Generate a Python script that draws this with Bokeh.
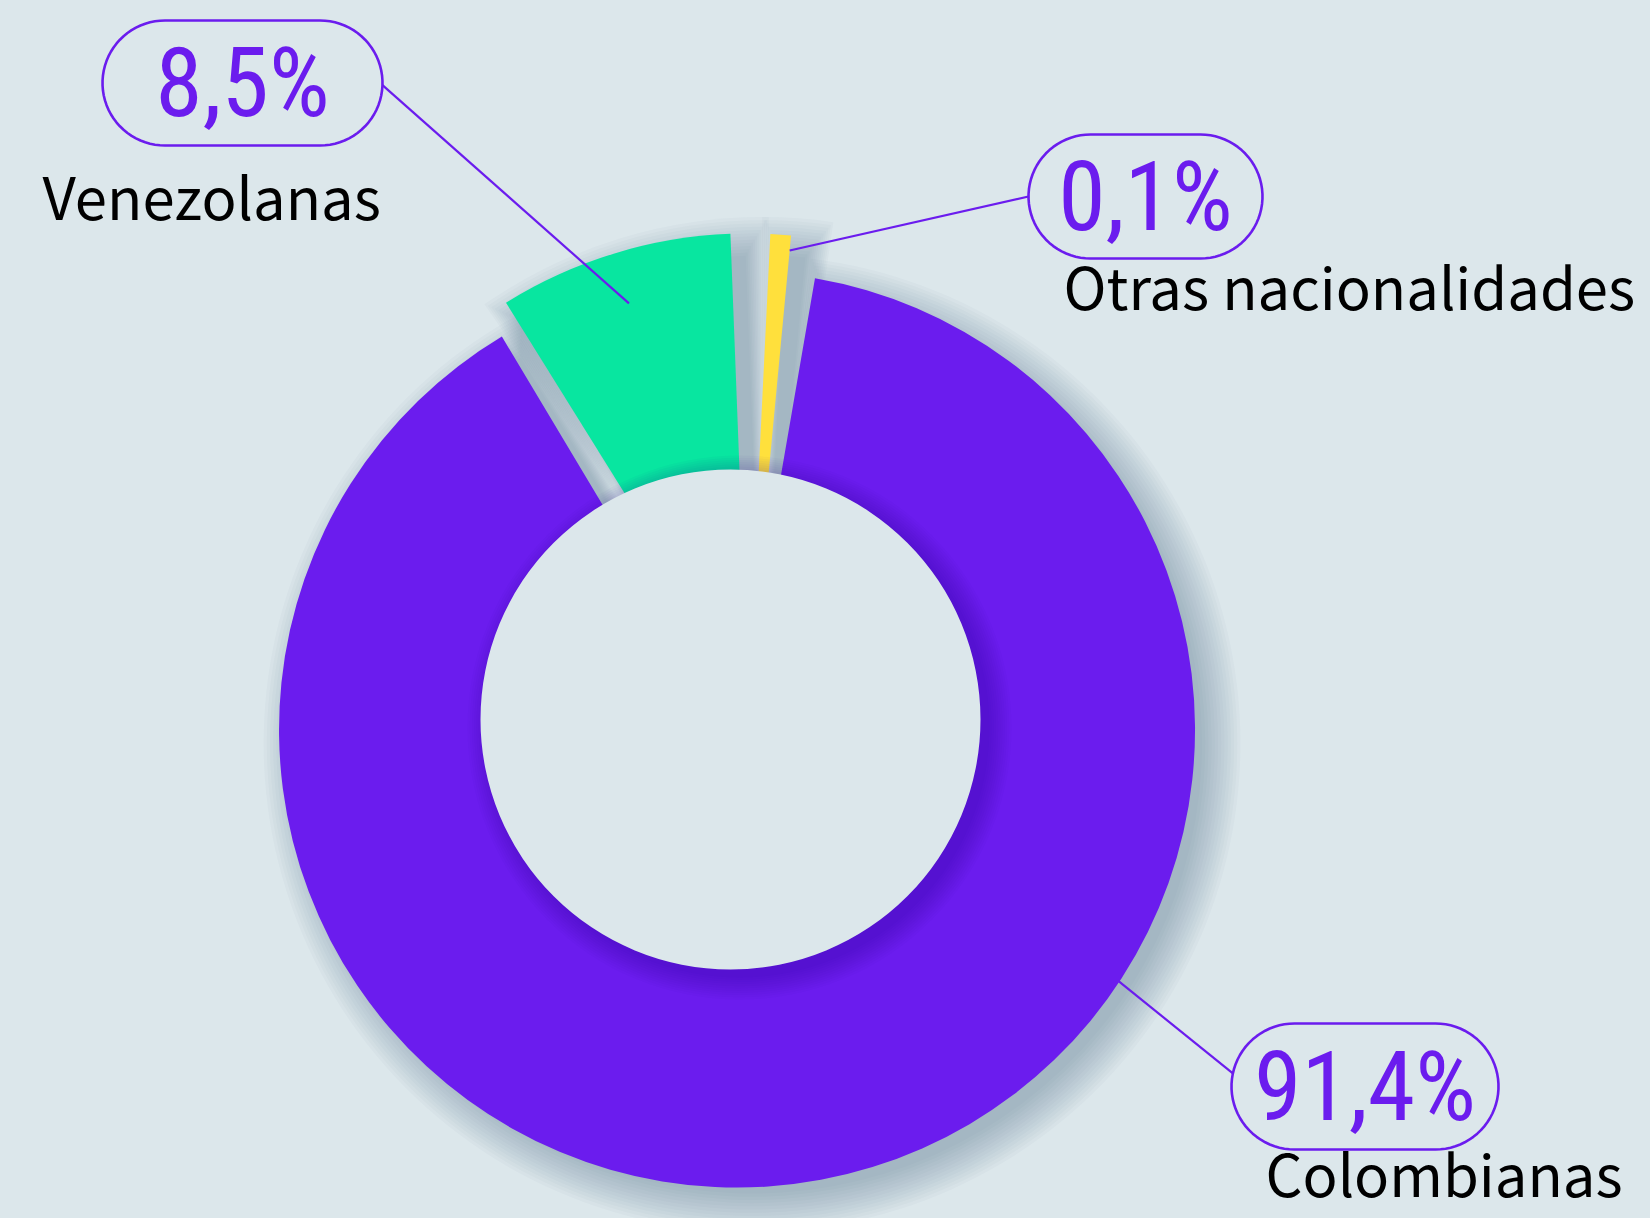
import numpy as np
from bokeh.plotting import figure
from bokeh.models import Range1d, ColumnDataSource
from bokeh.core.properties import value
from bokeh.embed import file_html
from bokeh.resources import INLINE

# ---------------- data ----------------
categories = ["Colombianas", "Venezolanas", "Otras nacionalidades"]
shares = [91.4, 8.5, 0.1]
value_labels = [f"{v:.1f}".replace(".", ",") + "%" for v in shares]

# ---------------- style ----------------
colors = ["#6b1cee", "#08e6a0", "#ffe03c"]
BG = "#dce7eb"
PURPLE = "#6b1cee"
W, H = 1650, 1218

# pie layout (pixel space of the 1650x1218 page)
hole_center = (730.0, 719.0)
R_OUT, R_HOLE = 458.0, 250.0
rotation = 80.2                  # clockwise start of first slice (deg)
gaps_after = [-1.0, 5.0, 4.4]    # angular gap after each slice (deg)
min_angle = 2.6                  # minimum visible angle for a slice
explode_dist = [12.0, 33.0, 33.0]
explode_dir = [303.0, 58.0, 58.0]

# label layout: pill (cx, cy, w, h), pill attach angle, name (left x, baseline), leader anchor (angle, r)
pill_box = [(1364.5, 1086.0, 267, 126), (242.0, 82.5, 280, 125), (1145.0, 196.0, 234, 124)]
pill_attach = [168.0, -2.0, 180.0]
name_pos = [(1265, 1194), (42, 217), (1063, 307)]
anchor_angle = [326.6, None, "lo"]
anchor_r = [457.0, 406.0, 443.0]

VALUE_FONT = "Roboto Condensed, Roboto, sans-serif"
VALUE_SIZE = 96
NAME_FONT = "Noto Sans CJK SC"
NAME_SIZE = 58
NAME_MID = 0.38   # middle of text box above baseline (em)


def Y(yref):
    return float(H) - yref


# ---------------- angles from data ----------------
tot = sum(shares)
raw = [v / tot * 360.0 for v in shares]
small = [a < min_angle for a in raw]
fixed = sum(min_angle for s in small if s)
avail = 360.0 - sum(gaps_after) - fixed
big_tot = sum(v for v, s in zip(shares, small) if not s)
spans = [min_angle if s else v / big_tot * avail for v, s in zip(shares, small)]

his, los = [], []
cur = rotation
for sp, g in zip(spans, gaps_after):
    his.append(cur)
    los.append(cur - sp)
    cur = cur - sp - g

cx = [hole_center[0] + d * np.cos(np.radians(a)) for d, a in zip(explode_dist, explode_dir)]
cy = [Y(hole_center[1]) + d * np.sin(np.radians(a)) for d, a in zip(explode_dist, explode_dir)]

p = figure(width=W, height=H, x_range=Range1d(0, W), y_range=Range1d(0, H),
           x_axis_type=None, y_axis_type=None, toolbar_location=None,
           output_backend="svg", min_border=0, outline_line_color=None,
           background_fill_color=BG, border_fill_color=BG)
p.grid.visible = False

# ---- drop shadow of the slices ----
N_SH, STEP, SH_A = 13, 3.2, 0.034
sx, sy, sr, ss, se = [], [], [], [], []
for i in range(len(shares)):
    for k in range(N_SH):
        r = R_OUT - 8 + STEP * k
        widen = np.degrees((STEP * k) / R_OUT) * 0.6
        sx.append(cx[i] + 15)
        sy.append(cy[i] - 14)
        sr.append(r)
        ss.append(los[i] - widen)
        se.append(his[i] + widen)
p.wedge(x=sx, y=sy, radius=sr, start_angle=ss, end_angle=se,
        start_angle_units="deg", end_angle_units="deg",
        fill_color="#4a6d80", fill_alpha=SH_A, line_color=None)

# ---- slices ----
src = ColumnDataSource(dict(x=cx, y=cy, s=los, e=his, c=colors, cat=categories))
p.wedge(x="x", y="y", radius=R_OUT, start_angle="s", end_angle="e",
        start_angle_units="deg", end_angle_units="deg",
        fill_color="c", line_color=None, source=src)

# ---- hole shadow + hole ----
hx, hy = hole_center[0], Y(hole_center[1])
for k in range(11):
    p.circle(x=[hx + 9], y=[hy - 8], radius=R_HOLE + 2.2 * k,
             fill_color="#2a0a9c", fill_alpha=0.028, line_color=None)
p.circle(x=[hx], y=[hy], radius=R_HOLE, fill_color=BG, line_color=None)

# ---- leader lines, pills, texts ----
x0s, y0s, x1s, y1s = [], [], [], []
pxs, pys = [], []
for i in range(len(shares)):
    pcx, pcy, pw, ph = pill_box[i]
    pr = ph / 2.0
    yc = Y(pcy)
    t1 = np.linspace(-np.pi / 2, np.pi / 2, 40)
    t2 = np.linspace(np.pi / 2, 3 * np.pi / 2, 40)
    xs = list(pcx + (pw / 2 - pr) + pr * np.cos(t1)) + list(pcx - (pw / 2 - pr) + pr * np.cos(t2))
    ys = list(yc + pr * np.sin(t1)) + list(yc + pr * np.sin(t2))
    pxs.append(xs)
    pys.append(ys)
    a = np.radians(pill_attach[i])
    side = 1 if np.cos(a) > 0 else -1
    ax_ = pcx + side * (pw / 2 - pr) + pr * np.cos(a)
    ay_ = yc + pr * np.sin(a)
    if anchor_angle[i] is None:
        ang = (los[i] + his[i]) / 2.0
    elif anchor_angle[i] == "lo":
        ang = los[i]
    else:
        ang = anchor_angle[i]
    bx = cx[i] + anchor_r[i] * np.cos(np.radians(ang))
    by = cy[i] + anchor_r[i] * np.sin(np.radians(ang))
    x0s.append(bx); y0s.append(by); x1s.append(ax_); y1s.append(ay_)

p.segment(x0=x0s, y0=y0s, x1=x1s, y1=y1s, line_color=PURPLE, line_width=2.2)
p.patches(xs=pxs, ys=pys, fill_color=BG, line_color=PURPLE, line_width=2.6)

p.text(x=[b[0] for b in pill_box], y=[Y(b[1]) for b in pill_box],
       text=value_labels, text_align="center", text_baseline="middle",
       text_font=value(VALUE_FONT), text_font_size=f"{VALUE_SIZE}px",
       text_color=PURPLE)

p.text(x=[n[0] for n in name_pos], y=[Y(n[1]) + NAME_SIZE * NAME_MID for n in name_pos],
       text=categories, text_align="left", text_baseline="middle",
       text_font=value(NAME_FONT), text_font_size=f"{NAME_SIZE}px",
       text_color="#000000")

html = file_html(p, INLINE)
html = html.replace("<head>", "<head><style>body{background:#dce7eb;}</style>", 1)
open("out.html", "w").write(html)
